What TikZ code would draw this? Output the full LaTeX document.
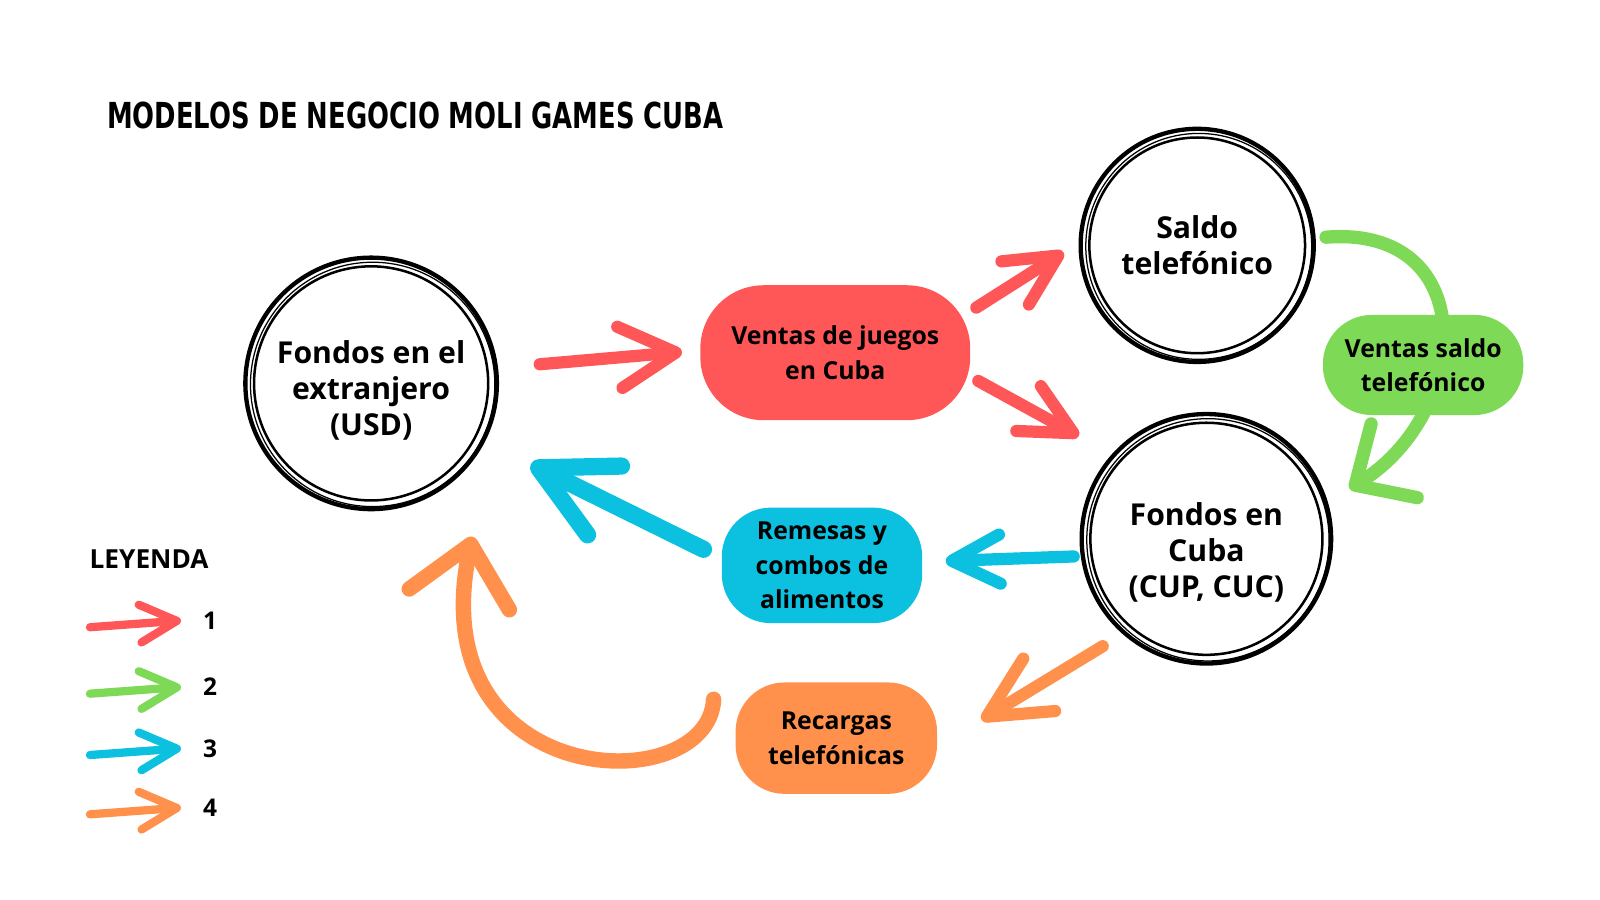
\documentclass[tikz,border=0pt]{standalone}
\usepackage{fontspec}
\usepackage{graphicx}
\setmainfont{Open Sans}
\newfontfamily\titlefont{DejaVu Sans}
\usetikzlibrary{arrows.meta,calc}
\definecolor{rojo}{HTML}{FF5757}
\definecolor{verde}{HTML}{7ED957}
\definecolor{azul}{HTML}{0CC0DF}
\definecolor{naranja}{HTML}{FF914D}
\begin{document}
\begin{tikzpicture}[
    circulo/.style={circle, draw, line width=1.2pt, minimum size=#1, inner sep=0pt, outer sep=0pt, align=center, font=\fontsize{8.4}{10}\selectfont\bfseries},
    caja/.style={rounded corners=0.48cm, fill=#1, inner sep=0pt, outer sep=0pt, align=center, font=\fontsize{6.9}{9.6}\selectfont\bfseries},
    flecha/.style n args={4}{draw=#1, line width=#2, line cap=round, -{Straight Barb[length=#3,width=#4,round]}}
  ]
  \useasboundingbox (0,0) rectangle (15.65,8.80);
  \node[anchor=west, inner sep=0pt] (titulo) at (1.04,7.675) {\resizebox{6.03cm}{0.26cm}{\titlefont\bfseries MODELOS DE NEGOCIO MOLI GAMES CUBA}};

  \node[circulo=2.46cm] (usd) at (3.63,5.05) {\rule{0pt}{10.4pt}Fondos en el\\extranjero\\(USD)};
  \node[circulo=2.28cm] (saldo) at (11.71,6.40) {Saldo\\telefónico};
  \node[circulo=2.44cm] (cuba) at (11.80,3.53) {\rule{0pt}{13.8pt}Fondos en\\Cuba\\(CUP, CUC)};
  \foreach \n/\r in {usd/1.23, saldo/1.14, cuba/1.22} {
    \draw[line width=0.35pt] ([shift={(0.015,-0.01)}]\n.center) circle[radius={\r-0.035}];
    \draw[line width=0.7pt] (\n.center) circle[radius={\r-0.085}];
  }

  \node[caja=rojo, minimum width=2.64cm, minimum height=1.32cm, rounded corners=0.62cm] (juegos) at (8.17,5.35) {Ventas de juegos\\en Cuba};
  \node[caja=azul, minimum width=1.96cm, minimum height=1.13cm] (remesas) at (8.04,3.27) {Remesas y\\combos de\\alimentos};
  \node[caja=naranja, minimum width=1.97cm, minimum height=1.09cm] (recargas) at (8.18,1.58) {Recargas\\telefónicas};

  \draw[flecha={rojo}{3.4pt}{5.5mm}{6mm}, shorten <=0.43cm, shorten >=0.18cm] (usd.7) -- (juegos.179);
  \draw[flecha={rojo}{3.4pt}{5mm}{5mm}, shorten <=0.07cm, shorten >=0.20cm] (juegos.17) -- (saldo.178);
  \draw[flecha={rojo}{3.4pt}{5mm}{5mm}, shorten <=0.09cm, shorten >=0.39cm] (juegos.-10) -- (cuba.138);
  \draw[flecha={verde}{3.7pt}{4.5mm}{8.5mm}] ($(saldo.east)+(0.12,0.08)$) .. controls +(1.52,0.12) and +(1.2,0.75) .. ($(cuba.east)+(0.18,0.49)$);
  \draw[flecha={azul}{4.8pt}{7.2mm}{7.5mm}, shorten <=0.2cm, shorten >=0.52cm] (remesas.176) -- (usd.-27);
  \draw[flecha={azul}{3.4pt}{4.7mm}{4.8mm}, shorten <=0.09cm, shorten >=0.23cm] (cuba.188) -- (remesas.2);
  \draw[flecha={naranja}{3.4pt}{6mm}{6mm}, shorten <=0.25cm, shorten >=0.51cm] (cuba.229) -- (recargas.-5);
  \draw[flecha={naranja}{4.3pt}{5.5mm}{10mm}] ($(recargas.west)+(-0.215,0.38)$) .. controls +(-0.05,-1.0) and +(-0.52,-2.5) .. ($(usd.south)+(0.99,-0.27)$);

  \node[caja=verde, minimum width=1.96cm, minimum height=0.98cm] (ventsaldo) at (13.92,5.23) {Ventas saldo\\telefónico};

  \node[anchor=west, inner sep=0pt, font=\fontsize{7.3}{8}\selectfont\bfseries] (leyenda) at (0.87,3.33) {LEYENDA};
  \foreach \c/\n/\y in {rojo/1/2.73, verde/2/2.08, azul/3/1.48, naranja/4/0.90} {
    \node[inner sep=0pt, font=\fontsize{6.8}{8}\selectfont\bfseries] (ley\n) at (2.055,\y) {\n};
    \draw[flecha={\c}{2.3pt}{3.6mm}{3.7mm}] ($(ley\n.center)+(-1.175,-0.065)$) -- ($(ley\n.center)+(-0.285,0)$);
  }
\end{tikzpicture}
\end{document}
